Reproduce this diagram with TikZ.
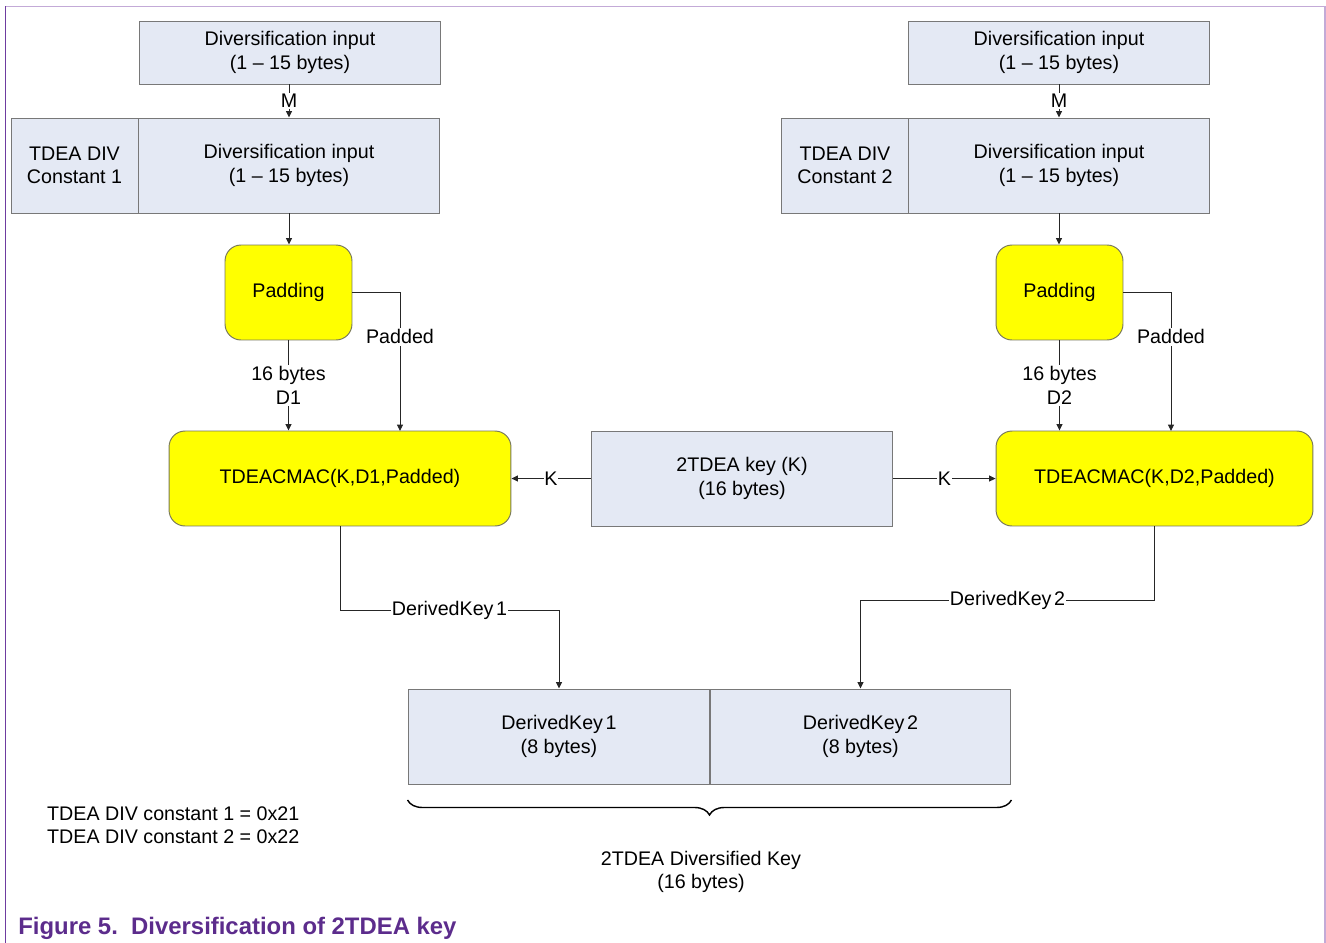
\documentclass[tikz,border=0pt]{standalone}
\usepackage{fontspec}
\setmainfont{Liberation Sans}
\usetikzlibrary{arrows.meta,decorations.pathreplacing}
\definecolor{boxfill}{RGB}{228,233,244}
\definecolor{boxline}{RGB}{120,120,120}
\definecolor{ylw}{RGB}{255,255,0}
\definecolor{ylwline}{RGB}{120,120,90}
\definecolor{frameL}{RGB}{110,60,160}
\definecolor{frameT}{RGB}{195,170,215}
\definecolor{capcol}{RGB}{92,44,140}
\tikzset{
  bluebox/.style={draw=boxline, fill=boxfill, line width=0.55pt, align=center, inner sep=0pt},
  yelbox/.style={draw=ylwline, fill=ylw, line width=0.55pt, rounded corners=0.32cm, align=center, inner sep=0pt},
  conn/.style={draw=black!85, line width=0.55pt},
  arr/.style={conn, -{Triangle[length=3.6pt,width=3.4pt]}},
  lab/.style={fill=white, inner sep=1pt, align=center},
}
\begin{document}
\begin{tikzpicture}[x=0.02cm, y=-0.02cm, font=\fontsize{11.2}{13.4}\selectfont]
\useasboundingbox (0,0) rectangle (1326,943);
% frame
\draw[frameT, line width=0.9pt] (5.5,6.5) -- (1325,6.5) -- (1325,943);
\draw[frameL, line width=1pt] (5.5,6) -- (5.5,943);

% left column
\node[bluebox, minimum width=6.04cm, minimum height=1.26cm] (top1) at (290,52.5) {Diversification input\\(1 -- 15 bytes)};
\node[bluebox, minimum width=2.54cm, minimum height=1.9cm] (c1) at (74.5,165.5) {TDEA DIV\\Constant 1};
\node[bluebox, minimum width=6.04cm, minimum height=1.9cm] (div1) at (289,165.5) {Diversification input\\(1 -- 15 bytes)};
\node[yelbox, minimum width=2.54cm, minimum height=1.9cm] (pad1) at (288.5,292.5) {Padding};
\node[yelbox, minimum width=6.84cm, minimum height=1.9cm] (mac1) at (340,478.5) {TDEACMAC(K,D1,Padded)};

% right column
\node[bluebox, minimum width=6.04cm, minimum height=1.26cm] (top2) at (1059,52.5) {Diversification input\\(1 -- 15 bytes)};
\node[bluebox, minimum width=2.54cm, minimum height=1.9cm] (c2) at (845,165.5) {TDEA DIV\\Constant 2};
\node[bluebox, minimum width=6.04cm, minimum height=1.9cm] (div2) at (1059,165.5) {Diversification input\\(1 -- 15 bytes)};
\node[yelbox, minimum width=2.54cm, minimum height=1.9cm] (pad2) at (1059.5,292.5) {Padding};
\node[yelbox, minimum width=6.34cm, minimum height=1.9cm] (mac2) at (1154.5,478.5) {TDEACMAC(K,D2,Padded)};

% key
\node[bluebox, minimum width=6.04cm, minimum height=1.9cm] (key) at (742,478.5) {2TDEA key (K)\\(16 bytes)};

% derived keys
\node[bluebox, minimum width=6.04cm, minimum height=1.9cm] (dk1) at (559,736.5) {DerivedKey\kern1.5pt1\\(8 bytes)};
\node[bluebox, minimum width=6.02cm, minimum height=1.9cm] (dk2) at (860.5,736.5) {DerivedKey\kern1.5pt2\\(8 bytes)};

% connectors left
\draw[arr] (top1.south -| div1.north) -- node[lab, inner sep=0.5pt] {M} (div1.north);
\draw[arr] (div1.south) -- (pad1.north -| div1.south);
\draw[arr] (pad1.south) -- node[lab] {16 bytes\\D1} (pad1.south |- mac1.north);
\coordinate (p1) at (400,431);
\draw[arr] (pad1.east) -| node[lab, pos=0.66] {Padded} (p1);

% connectors right
\draw[arr] (top2.south) -- node[lab, inner sep=0.5pt] {M} (div2.north);
\draw[arr] (div2.south) -- (pad2.north -| div2.south);
\draw[arr] (pad2.south) -- node[lab] {16 bytes\\D2} (pad2.south |- mac2.north);
\coordinate (p2) at (1171,431);
\draw[arr] (pad2.east) -| node[lab, pos=0.66] {Padded} (p2);

% K
\draw[arr] (key.west) -- node[lab, inner sep=0.5pt] {K} (mac1.east);
\draw[arr] (key.east) -- node[lab, inner sep=0.5pt] {K} (mac2.west);

% derived key connectors
\draw[arr] (mac1.south) -- (340,610) -- node[lab, inner sep=0.5pt] {DerivedKey\kern1.5pt1} (dk1.north |- 0,610) -- (dk1.north);
\draw[arr] (mac2.south) -- (1154.5,600) -- node[lab, inner sep=0.5pt] {DerivedKey\kern1.5pt2} (dk2.north |- 0,600) -- (dk2.north);

% brace
\draw[line width=0.8pt, decorate, decoration={brace, mirror, amplitude=0.3cm, aspect=0.5}] (dk1.south west |- 0,800) -- (dk2.south east |- 0,800);
\node[align=center] (div) at (701,872) {2TDEA Diversified Key\\(16 bytes)};

% constants
\node[anchor=west, align=left] (consts) at (41,825) {TDEA DIV constant 1 = 0x21\\TDEA DIV constant 2 = 0x22};

% caption
\node[anchor=west, inner sep=0pt, text=capcol, font=\fontsize{13.6}{16}\selectfont\bfseries] (cap) at (18,928) {Figure 5.\ \ Diversification of 2TDEA key};
\end{tikzpicture}
\end{document}
